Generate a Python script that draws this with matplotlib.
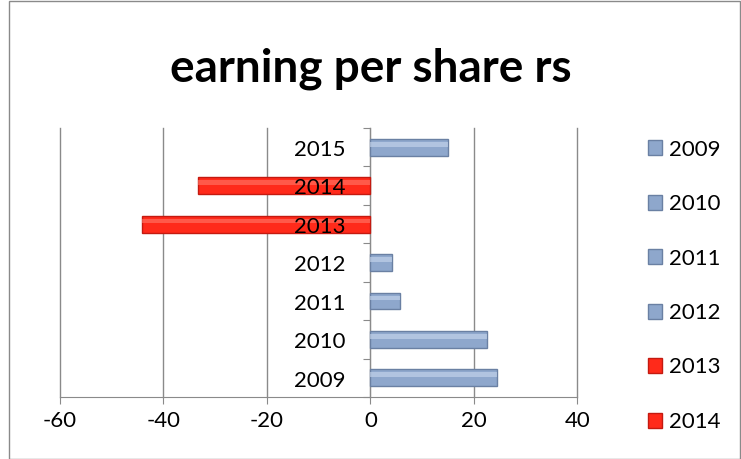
import numpy as np
import matplotlib.pyplot as plt
from matplotlib.patches import Rectangle, Patch

years = ['2009', '2010', '2011', '2012', '2013', '2014', '2015']
eps = [24.5, 22.5, 5.8, 4.1, -44.1, -33.4, 15.1]
legend_years = ['2009', '2010', '2011', '2012', '2013', '2014']
xticks = [-60, -40, -20, 0, 20, 40]

plt.rcParams['font.family'] = ['Lato', 'DejaVu Sans']

blue, blue_edge, blue_hi = '#8ea7cc', '#6a80a3', '#c9d8ee'
red, red_edge, red_hi = '#ff2a1a', '#c41a10', '#ff7a6a'

fig = plt.figure(figsize=(7.41, 4.59), dpi=100)
fig.patches.append(Rectangle((0.012, 0.0), 0.986, 0.998, transform=fig.transFigure,
                             fill=False, edgecolor='#8a8a8a', linewidth=1))
ax = fig.add_axes([0.081, 0.135, 0.698, 0.586])

y = np.arange(len(years))
cols = [red if v < 0 else blue for v in eps]
edges = [red_edge if v < 0 else blue_edge for v in eps]
his = [red_hi if v < 0 else blue_hi for v in eps]
ax.barh(y, eps, height=0.44, color=cols, edgecolor=edges, linewidth=1, zorder=3)
ax.barh(y + 0.08, eps, height=0.12, color=his, linewidth=0, alpha=0.6, zorder=4)

ax.set_xlim(-60, 40)
ax.set_ylim(-0.5, 6.5)
ax.set_xticks(xticks)
ax.set_xticklabels([str(t) for t in xticks], fontsize=16)
ax.tick_params(axis='x', length=5, color='#8a8a8a', pad=5)
ax.grid(axis='x', color='#8a8a8a', linewidth=1, zorder=0)
for gl in ax.get_xgridlines():
    gl.set_clip_on(False)

ax.spines['left'].set_position(('data', 0))
ax.spines['left'].set_color('#8a8a8a')
ax.spines['bottom'].set_color('#8a8a8a')
ax.spines['top'].set_visible(False)
ax.spines['right'].set_visible(False)
ax.set_yticks(np.arange(-0.5, 7, 1))
ax.set_yticklabels([])
ax.tick_params(axis='y', length=5, color='#8a8a8a')

for i, yr in enumerate(years):
    ax.annotate(yr, (0, i), xytext=(-18, -2), textcoords='offset points',
                ha='right', va='center', fontsize=16, zorder=5)

fig.text(0.5, 0.85, 'earning per share rs', ha='center', va='center',
         fontsize=33, fontweight='bold')

handles = [Patch(facecolor=blue if int(yr) < 2013 else red,
                 edgecolor=blue_edge if int(yr) < 2013 else red_edge)
           for yr in legend_years]
fig.legend(handles, legend_years, loc='upper left', bbox_to_anchor=(0.862, 0.715),
           frameon=False, fontsize=16, handlelength=0.65, handleheight=0.65,
           handletextpad=0.3, labelspacing=1.55, borderaxespad=0)

fig.savefig('out.png', dpi=100)
